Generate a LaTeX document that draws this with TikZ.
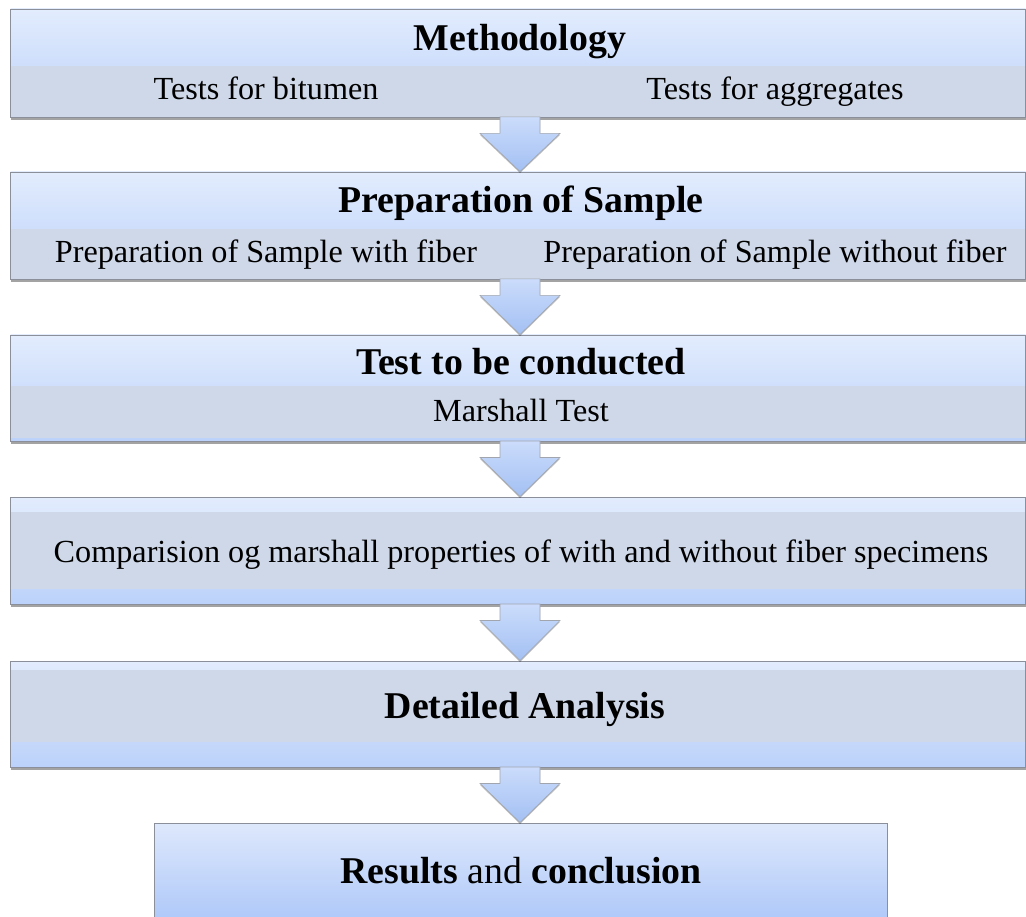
\documentclass[tikz,border=0pt]{standalone}
\usepackage{fontspec}
\setmainfont{Liberation Serif}
\usetikzlibrary{calc,shadows}
\definecolor{boxtop}{HTML}{E2ECFD}
\definecolor{boxbot}{HTML}{BCD2FA}
\definecolor{bandgrey}{HTML}{CFD8E8}
\definecolor{lasttop}{HTML}{DEE8FC}
\definecolor{lastbot}{HTML}{A8C4F8}
\definecolor{arrtop}{HTML}{CBDCFB}
\definecolor{arrbot}{HTML}{A3C0F3}
\definecolor{edgegrey}{HTML}{8A8F99}
\begin{document}
\begin{tikzpicture}[x=1pt,y=-1pt]
	\useasboundingbox (0,0) rectangle (1026,917);
	\tikzset{stage/.style={draw=edgegrey,line width=0.9pt,top color=boxtop,bottom color=boxbot,inner sep=0,
			drop shadow={shadow xshift=0pt,shadow yshift=-3pt,opacity=.45,fill=black!80}},
		band/.style={fill=bandgrey,draw=none,inner sep=0,minimum width=1014pt},
		title/.style={font=\fontsize{37.8}{45}\selectfont\bfseries,inner sep=0,anchor=base},
		sub/.style={font=\fontsize{32.2}{39}\selectfont,inner sep=0,anchor=base},
		flow/.style={draw=edgegrey!80,line width=0.6pt,top color=arrtop,bottom color=arrbot,
			drop shadow={shadow xshift=0pt,shadow yshift=-1.5pt,opacity=.25,fill=black}}}
	\path (518, 63  ) node [stage,minimum width=1015pt,minimum height=108pt] (meth) {};
	\path (518, 225.5) node [stage,minimum width=1015pt,minimum height=107pt] (prep) {};
	\path (518, 388 ) node [stage,minimum width=1015pt,minimum height=106pt] (test) {};
	\path (518, 550.5) node [stage,minimum width=1015pt,minimum height=107pt] (comp) {};
	\path (518, 714 ) node [stage,minimum width=1015pt,minimum height=106pt] (anal) {};
	\path (520.5,878) node [stage,minimum width=733pt,minimum height=110pt,top color=lasttop,bottom color=lastbot] (res) {};
	\path (518, 91.5) node [band,minimum height=51pt] (methband) {};
	\path (518, 254 ) node [band,minimum height=50pt] (prepband) {};
	\path (518, 412 ) node [band,minimum height=52pt] (testband) {};
	\path (518, 550.5) node [band,minimum height=77pt] (compband) {};
	\path (518, 706 ) node [band,minimum height=72pt] (analband) {};
	\path (520, 51  ) node [title] (methtitle) {Methodology};
	\path (266, 100 ) node [sub]   (bitumen)   {Tests for bitumen};
	\path (775, 100 ) node [sub]   (aggr)      {Tests for aggregates};
	\path (521, 213 ) node [title] (preptitle) {Preparation of Sample};
	\path (266, 263 ) node [sub]   (withfib)   {Preparation of Sample with fiber};
	\path (775, 263 ) node [sub]   (withoutfib){Preparation of Sample without fiber};
	\path (521, 374 ) node [title] (testtitle) {Test to be conducted};
	\path (521, 421 ) node [sub]   (marshall)  {Marshall Test};
	\path (521, 562 ) node [sub]   (comptext)  {Comparision og marshall properties of with and without fiber specimens};
	\path (525, 718 ) node [title] (analtitle) {Detailed Analysis};
	\path (521, 883 ) node [title] (restitle)  {Results \textmd{and} conclusion};
	\foreach \a/\b in {meth/prep,prep/test,test/comp,comp/anal,anal/res}
		\draw[flow] ($(\a.south)+(-18,-0.5)$) -- ++(0,16.5) -- ++(-20,0) -- ($(\a.south |- \b.north)+(2,0)$)
			-- ($(\a.south)+(42,16)$) -- ++(-20,0) -- ++(0,-16.5) -- cycle;
\end{tikzpicture}
\end{document}
